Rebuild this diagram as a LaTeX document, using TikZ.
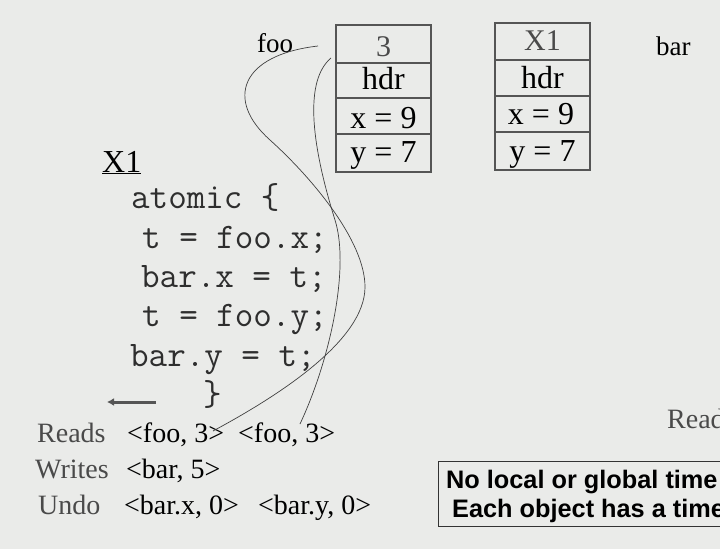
\documentclass[tikz,border=0pt]{standalone}
\usepackage{fontspec}
\usetikzlibrary{arrows.meta}
\setmainfont{Liberation Serif}
\setmonofont{Latin Modern Mono}
\newfontfamily\arialfont{Liberation Sans}
\definecolor{bgc}{HTML}{EAEBE9}
\definecolor{linec}{HTML}{555555}
\definecolor{codec}{HTML}{2E2E2E}
\definecolor{greyt}{HTML}{4A4A4A}
\tikzset{
  cell/.style={draw=linec, line width=1.1pt},
  celltext/.style={anchor=base, inner sep=0pt, font=\fontsize{32}{32}\selectfont},
  topcell/.style={anchor=base, inner sep=0pt, text=greyt, font=\fontsize{30}{30}\selectfont},
  code/.style={anchor=base west, inner sep=0pt, text=codec, font=\ttfamily\fontsize{36}{36}\selectfont},
  lbl/.style={anchor=base west, inner sep=0pt, font=\fontsize{27}{27}\selectfont},
  logk/.style={anchor=base west, inner sep=0pt, text=greyt, font=\fontsize{28}{28}\selectfont},
  logv/.style={anchor=base west, inner sep=0pt, font=\fontsize{28}{28}\selectfont},
  link/.style={draw=black!75, line width=0.7pt},
  note/.style={anchor=base west, inner sep=0pt, font=\arialfont\bfseries\fontsize{25.3}{25.3}\selectfont}
}
\begin{document}
\begin{tikzpicture}[x=1pt,y=-1pt]
\useasboundingbox (0,0) rectangle (720,549);
\clip (0,0) rectangle (720,549);
\fill[bgc] (0,0) rectangle (720,549);

% foo object
\draw[cell] (336,25) rectangle (431,172);
\draw[cell] (336,63) -- (431,63);
\draw[cell] (336,98) -- (431,98);
\draw[cell] (336,134) -- (431,134);
\node[topcell] (f3) at (383.5,56) {3};
\node[celltext] (fhdr) at (383.5,89) {hdr};
\node[celltext] (fx) at (383.5,128) {x = 9};
\node[celltext] (fy) at (383.5,162) {y = 7};
\node[lbl] (foo) at (257,52) {foo};

% bar object
\draw[cell] (495,23) rectangle (590,170);
\draw[cell] (495,60) -- (590,60);
\draw[cell] (495,96) -- (590,96);
\draw[cell] (495,132) -- (590,132);
\node[topcell] (bx1) at (542.5,50) {X1};
\node[celltext] (bhdr) at (542.5,88) {hdr};
\node[celltext] (bx) at (541,124) {x = 9};
\node[celltext] (by) at (542.5,161) {y = 7};
\node[lbl] (bar) at (656,55) {bar};

% transaction
\node[anchor=base west, inner sep=0pt, font=\fontsize{32}{32}\selectfont] (x1) at (102,172) {\underline{X1}};
\node[code] (l1) at (131,208) {atomic \{};
\node[code] (l2) at (142,248) {t = foo.x;};
\node[code] (l3) at (141,287) {bar.x = t;};
\node[code] (l4) at (142,326) {t = foo.y;};
\node[code] (l5) at (130,366) {bar.y = t;};
\node[code] (l6) at (203,405) {\}};
\coordinate (pa) at (156,402);
\coordinate (pb) at (107,402);
\draw[draw=linec, line width=3pt, -{Latex[length=7pt,width=8pt]}] (pa) -- (pb);

% logs
\node[logk] (reads) at (37,442) {Reads};
\node[logv] (r1) at (127,442) {<foo, 3>};
\node[logv] (r2) at (238,442) {<foo, 3>};
\node[logk] (writes) at (35,478) {Writes};
\node[logv] (w1) at (126,478) {<bar, 5>};
\node[logk] (undo) at (38,514) {Undo};
\node[logv] (u1) at (124,514) {<bar.x, 0>};
\node[logv] (u2) at (258,514) {<bar.y, 0>};
\node[logk] (rd) at (667,428) {Reads};

% note box
\draw[draw=black!80, line width=1pt] (438,461) rectangle (800,526);
\node[note] (n1) at (446,488) {No local or global time stamps};
\node[note] (n2) at (452,517) {Each object has a timestamp};

% links
\coordinate (s1) at (318,46);
\coordinate (e1) at (213,431);
\coordinate (s2) at (331,58);
\coordinate (e2) at (300,424);
\draw[link] (s1) .. controls (240,55) and (225,100) .. (270,140)
  .. controls (310,176) and (365,240) .. (365,287)
  .. controls (365,340) and (280,395) .. (e1);
\draw[link] (s2) .. controls (305,80) and (310,140) .. (335,220)
  .. controls (350,268) and (330,360) .. (e2);
\end{tikzpicture}
\end{document}
